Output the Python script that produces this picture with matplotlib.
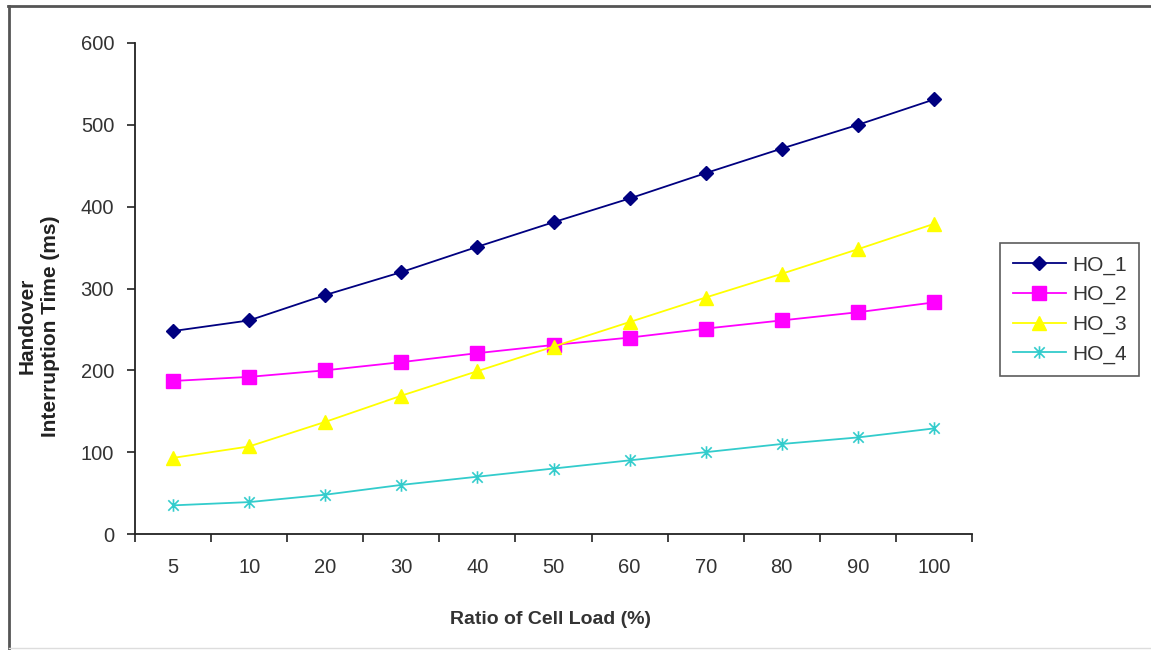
import numpy as np
import matplotlib
matplotlib.use("Agg")
import matplotlib.pyplot as plt
from matplotlib.path import Path
from matplotlib.lines import Line2D

plt.rcParams['font.family'] = ['Liberation Sans', 'DejaVu Sans']

# Daten
loads = ['5', '10', '20', '30', '40', '50', '60', '70', '80', '90', '100']
ho_1 = [248, 261, 292, 320, 351, 381, 410, 441, 471, 500, 531]
ho_2 = [187, 192, 200, 210, 221, 231, 240, 251, 261, 271, 283]
ho_3 = [93, 107, 137, 169, 199, 229, 259, 289, 318, 348, 379]
ho_4 = [35, 39, 48, 60, 70, 80, 90, 100, 110, 118, 129]
series_names = ['HO_1', 'HO_2', 'HO_3', 'HO_4']
y_ticks = [0, 100, 200, 300, 400, 500, 600]

# Excel-artiger Stern: X mit senkrechtem Strich
star = Path([(-1, -1), (1, 1), (-1, 1), (1, -1), (0, -1.2), (0, 1.2)],
            [Path.MOVETO, Path.LINETO, Path.MOVETO, Path.LINETO, Path.MOVETO, Path.LINETO])

styles = [
    dict(color='#000080', marker='D', markersize=7.5),
    dict(color='#FF00FF', marker='s', markersize=9.5),
    dict(color='#FFFF00', marker='^', markersize=10),
    dict(color='#33CCCC', marker=star, markersize=9, markeredgewidth=1.2),
]

fig = plt.figure(figsize=(11.51, 6.5), dpi=100)
ax = fig.add_axes([135 / 1151, 1 - 534 / 650, (972 - 135) / 1151, (534 - 43) / 650])

x = np.arange(len(loads))
for name, vals, st in zip(series_names, [ho_1, ho_2, ho_3, ho_4], styles):
    ax.plot(x, vals, linewidth=1.3, label=name, **st)

ax.set_xlim(-0.5, len(loads) - 0.5)
ax.set_ylim(0, 600)
ax.set_yticks(y_ticks)
ax.set_xticks(np.arange(len(loads) + 1) - 0.5)
ax.set_xticklabels([])
ax.set_xticks(x, minor=True)
ax.set_xticklabels(loads, minor=True)
ax.tick_params(axis='x', which='major', direction='out', length=6, width=1.2, color='#222222')
ax.tick_params(axis='x', which='minor', length=0, pad=17, labelsize=14.5, labelcolor='#333333')
ax.tick_params(axis='y', direction='out', length=6, width=1.2, color='#222222',
               labelsize=14.5, labelcolor='#333333', pad=9)

for side in ['top', 'right']:
    ax.spines[side].set_visible(False)
for side in ['left', 'bottom']:
    ax.spines[side].set_linewidth(1.3)
    ax.spines[side].set_color('#222222')

fig.text(550 / 1151, 1 - 619 / 650, 'Ratio of Cell Load (%)', ha='center', va='center',
         fontsize=14, fontweight='bold', color='#333333')
fig.text(39 / 1151, 1 - 326 / 650, 'Handover\nInterruption Time (ms)', ha='center', va='center',
         rotation=90, fontsize=15, fontweight='bold', color='#222222', linespacing=1.3)

leg = fig.legend(loc='upper left', bbox_to_anchor=(1000 / 1151, 1 - 243 / 650),
                 fontsize=15, frameon=True, fancybox=False, shadow=False,
                 handlelength=2.55, borderpad=0.6, labelspacing=0.5, handletextpad=0.3,
                 borderaxespad=0)
leg.get_frame().set_edgecolor('#333333')
leg.get_frame().set_linewidth(1.2)
for t in leg.get_texts():
    t.set_color('#333333')

# Rahmen der Grafik (oben und links sichtbar)
fig.add_artist(Line2D([8 / 1151, 1], [1 - 6 / 650, 1 - 6 / 650], color='#555555', linewidth=2))
fig.add_artist(Line2D([9 / 1151, 9 / 1151], [0, 1 - 6 / 650], color='#555555', linewidth=2))
fig.add_artist(Line2D([9 / 1151, 1], [2 / 650, 2 / 650], color='#DDDDDD', linewidth=1))

fig.savefig('out.png', dpi=100)
